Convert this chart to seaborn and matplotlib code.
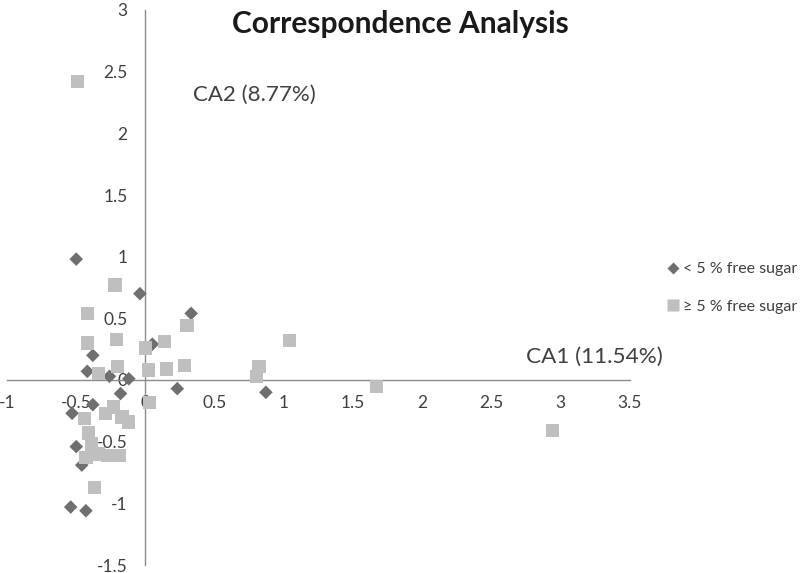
import matplotlib
matplotlib.use("Agg")
import matplotlib.pyplot as plt
from matplotlib.lines import Line2D
import seaborn as sns
import pandas as pd

# ---- data ----
low_label = "< 5 % free sugar"
high_label = "\u2265 5 % free sugar"

low_x = [-0.50, -0.04, 0.33, 0.05, -0.38, -0.42, -0.26, -0.12, -0.18, 0.23,
         0.87, -0.38, -0.53, -0.50, -0.46, -0.54, -0.43]
low_y = [0.98, 0.70, 0.54, 0.29, 0.20, 0.07, 0.03, 0.01, -0.11, -0.07,
         -0.10, -0.20, -0.27, -0.54, -0.69, -1.03, -1.06]

high_x = [-0.49, -0.22, -0.42, -0.21, -0.42, 0.00, 0.14, 0.30, 0.02, 0.15,
          0.28, -0.20, -0.34, 1.04, 0.82, 0.80, 1.67, 2.94, 0.03, -0.44,
          -0.29, -0.23, -0.17, -0.12, -0.41, -0.39, -0.43, -0.34, -0.27, -0.19,
          -0.37]
high_y = [2.42, 0.77, 0.54, 0.33, 0.30, 0.26, 0.31, 0.44, 0.08, 0.09,
          0.12, 0.11, 0.05, 0.32, 0.11, 0.03, -0.05, -0.41, -0.18, -0.31,
          -0.27, -0.22, -0.30, -0.34, -0.43, -0.52, -0.63, -0.60, -0.61, -0.61,
          -0.87]

x_ticks = [-1, -0.5, 0, 0.5, 1, 1.5, 2, 2.5, 3, 3.5]
y_ticks = [-1.5, -1, -0.5, 0, 0.5, 1, 1.5, 2, 2.5, 3]

title = "Correspondence Analysis"
ca1_label = "CA1 (11.54%)"
ca2_label = "CA2 (8.77%)"

# ---- style ----
sns.set_style("white")
plt.rcParams["font.family"] = ["Lato", "DejaVu Sans"]

low_color = "#6f6f6f"
high_color = "#bfbfbf"
axis_color = "#8c8c8c"
text_color = "#404040"

df_low = pd.DataFrame({"x": low_x, "y": low_y})
df_high = pd.DataFrame({"x": high_x, "y": high_y})

fig = plt.figure(figsize=(8, 5.73), dpi=100)
ax = fig.add_axes([7 / 800, 8 / 573, (630 - 7) / 800, (565 - 10) / 573])

sns.scatterplot(data=df_low, x="x", y="y", marker="D", s=48, color=low_color,
                edgecolor="none", linewidth=0, ax=ax, zorder=3)
sns.scatterplot(data=df_high, x="x", y="y", marker="s", s=92, color=high_color,
                edgecolor="none", linewidth=0, ax=ax, zorder=4)

ax.set_xlim(-1, 3.5)
ax.set_ylim(-1.5, 3)
ax.set_xticks(x_ticks)
ax.set_yticks(y_ticks)
ax.set_xticklabels([f"{t:g}" for t in x_ticks])
ax.set_yticklabels([f"{t:g}" for t in y_ticks])
ax.set_xlabel("")
ax.set_ylabel("")

for side in ["top", "right"]:
    ax.spines[side].set_visible(False)
ax.spines["left"].set_position(("data", 0))
ax.spines["bottom"].set_position(("data", 0))
for side in ["left", "bottom"]:
    ax.spines[side].set_color(axis_color)
    ax.spines[side].set_linewidth(1.0)

ax.tick_params(axis="both", which="major", direction="out", length=4,
               width=1, color=axis_color, labelcolor=text_color, labelsize=12.5)
ax.tick_params(axis="x", pad=7)
ax.tick_params(axis="y", pad=9)

ax.text(0.34, 2.31, ca2_label, fontsize=16, color=text_color, va="center", ha="left")
ax.text(2.75, 0.19, ca1_label, fontsize=16.2, color=text_color, va="center", ha="left")

fig.text(0.5, 0.958, title, fontsize=21.5, fontweight="bold", color="#1a1a1a",
         ha="center", va="center")

handles = [
    Line2D([0], [0], marker="D", linestyle="none", markersize=6.2,
           markerfacecolor=low_color, markeredgecolor="none"),
    Line2D([0], [0], marker="s", linestyle="none", markersize=9,
           markerfacecolor=high_color, markeredgecolor="none"),
]
leg = fig.legend(handles, [low_label, high_label], loc="center left",
                 bbox_to_anchor=(667 / 800, 1 - 288 / 573), frameon=False,
                 fontsize=11.5, labelspacing=1.45, handlelength=0.8,
                 handletextpad=0.2, borderaxespad=0, borderpad=0)
for t in leg.get_texts():
    t.set_color(text_color)

fig.savefig("out.png", dpi=100)
